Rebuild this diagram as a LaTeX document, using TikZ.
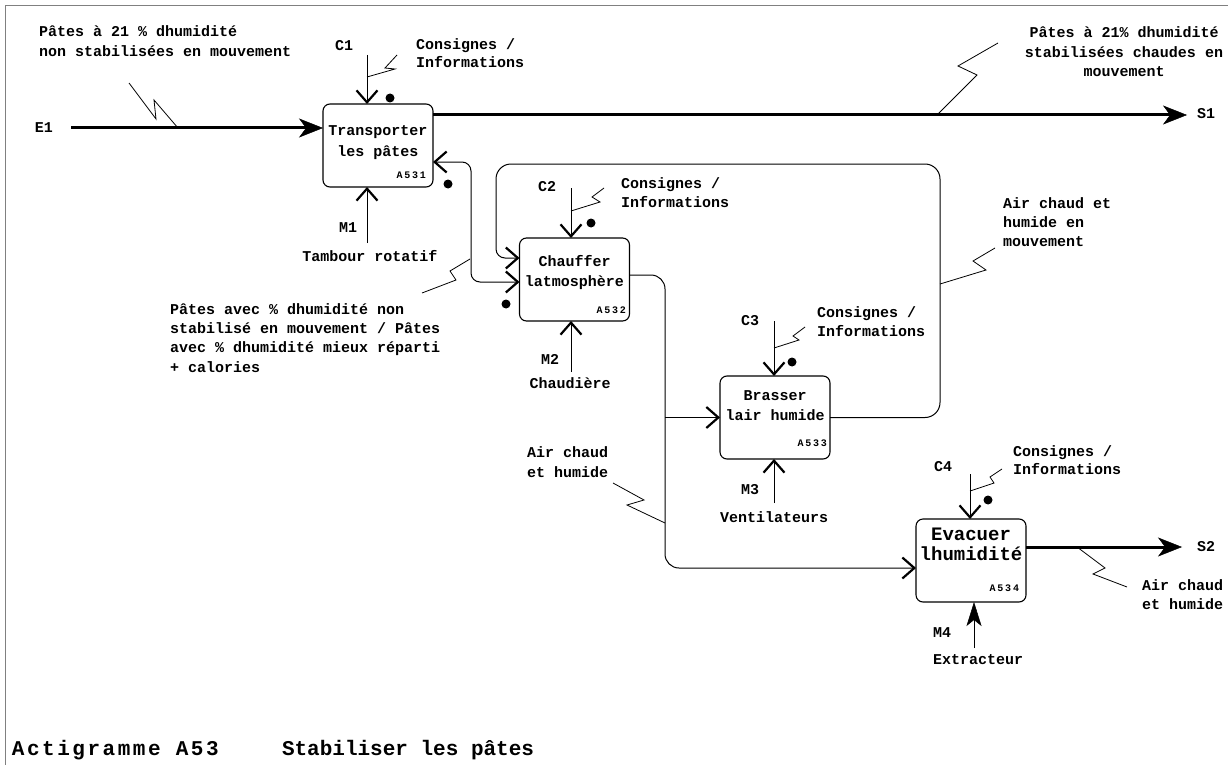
\documentclass[tikz,border=0pt]{standalone}
\usepackage{fontspec}
\newfontfamily\lblfam{Liberation Mono}
\newfontfamily\codefam[LetterSpace=18]{Liberation Mono}
\usetikzlibrary{arrows.meta}
\tikzset{
  Chev/.tip={Straight Barb[length=12pt,width=21pt,line width=2.2pt]},
  Big/.tip={Stealth[length=24pt,width=19pt,inset=7pt,line width=0.5pt]},
  BigUp/.tip={Stealth[length=24pt,width=15pt,inset=6pt,line width=0.5pt]},
}
\begin{document}
\begin{tikzpicture}[x=1pt,y=-1pt,
  every node/.style={inner sep=0pt, outer sep=0pt},
  lab/.style={font=\lblfam\bfseries\fontsize{15}{19}\selectfont, anchor=base west, align=left},
  labc/.style={font=\lblfam\bfseries\fontsize{15}{19}\selectfont, anchor=base, align=center},
  actbox/.style={draw, line width=1.1pt, rounded corners=7pt, minimum width=110pt, minimum height=83pt},
  boxcode/.style={font=\codefam\bfseries\fontsize{10}{12}\selectfont, anchor=base east},
  flow/.style={line width=1pt},
  heavy/.style={line width=3pt},
  squig/.style={line width=0.8pt},
  blob/.style={circle, fill, minimum size=9pt},
  sheet/.style={draw=gray, line width=1pt}
]
\useasboundingbox (0,0) rectangle (1228,765);

% sheet border (top and left edges)
\draw[sheet] (1228,6) -- (5,6) -- (5,765);

% activity boxes
\node[actbox] (A531) at (378,145.5) {};
\node[actbox] (A532) at (574.5,279.5) {};
\node[actbox] (A533) at (775,417.5) {};
\node[actbox] (A534) at (971,560.5) {};

% box titles (base anchor sits on the last line)
\node[labc, font=\lblfam\bfseries\fontsize{15}{21}\selectfont] (t531) at (378,157) {Transporter\\les pâtes};
\node[labc, font=\lblfam\bfseries\fontsize{15}{20}\selectfont] (t532) at (574.5,286) {Chauffer\\latmosphère};
\node[labc, font=\lblfam\bfseries\fontsize{15}{20}\selectfont] (t533) at (775,420) {Brasser\\lair humide};
\node[labc, font=\lblfam\bfseries\fontsize{19}{20}\selectfont] (t534) at (971,560) {Evacuer\\lhumidité};

\node[boxcode] (k531) at (426,178) {A531};
\node[boxcode] (k532) at (626,313) {A532};
\node[boxcode] (k533) at (827,446) {A533};
\node[boxcode] (k534) at (1019,591) {A534};

% ---- A531 ----
\coordinate (e1) at (71,128);
\draw[heavy,-Big] (e1) -- (e1 -| A531.west);
\node[labc] (nE1) at (44,132) {E1};
\node[lab, font=\lblfam\bfseries\fontsize{15}{20}\selectfont] (lE1) at (39,57) {Pâtes à 21 \% dhumidité\\non stabilisées en mouvement};
\draw[squig] (129,83) -- (156,119) -- (154,100) -- (178,128);

\coordinate (s1) at (1187,115);
\draw[heavy,-Big] (s1 -| A531.east) -- (s1);
\node[labc] (nS1) at (1206,119) {S1};
\node[labc, font=\lblfam\bfseries\fontsize{15}{19.5}\selectfont] (lS1) at (1124,77) {Pâtes à 21\% dhumidité\\stabilisées chaudes en\\mouvement};
\draw[squig] (998,43) -- (958,66) -- (977,75) -- (937,115);

\coordinate (c1) at (367,55);
\draw[flow,-Chev] (c1) -- (c1 |- A531.north);
\node[labc] (nC1) at (344,51) {C1};
\node[lab, font=\lblfam\bfseries\fontsize{15}{18}\selectfont] (lC1) at (416,68) {Consignes /\\Informations};
\draw[squig] (397,55) -- (385,68) -- (395,69) -- (367,77);
\node[blob] (d1) at (390,98) {};

\coordinate (m1) at (367,243);
\draw[flow,-Chev] (m1) -- (m1 |- A531.south);
\node[labc] (nM1) at (348,232) {M1};
\node[labc] (lM1) at (370,261) {Tambour rotatif};

% two-way link between A531 and A532
\draw[flow,Chev-Chev,rounded corners=9pt] ([yshift=-16.5pt]A531.east) -- (471,162) -- (471,282) -- ([yshift=-2.5pt]A532.west);
\node[blob] (d2) at (448,184) {};
\node[blob] (d3) at (506,304) {};
\draw[squig] (470,259) -- (450,271) -- (456,280) -- (422,293);
\node[lab, font=\lblfam\bfseries\fontsize{15}{19.3}\selectfont] (lPa) at (170,372) {Pâtes avec \% dhumidité non\\stabilisé en mouvement / Pâtes\\avec \% dhumidité mieux réparti\\+ calories};

% ---- A532 ----
\coordinate (c2) at (571,188);
\draw[flow,-Chev] (c2) -- (c2 |- A532.north);
\node[labc] (nC2) at (547,191) {C2};
\node[lab] (lC2) at (621,207) {Consignes /\\Informations};
\draw[squig] (604,188) -- (592,197) -- (600,202) -- (571,211);
\node[blob] (d4) at (591,223) {};

\coordinate (m2) at (571,372);
\draw[flow,-Chev] (m2) -- (m2 |- A532.south);
\node[labc] (nM2) at (550,364) {M2};
\node[labc] (lM2) at (570,388) {Chaudière};

% output of A532 to A533 and A534
\draw[flow,-Chev,rounded corners=14pt] ([yshift=4.5pt]A532.east) -- (665,275) -- (665,568) -- ([yshift=-7.5pt]A534.west);
\coordinate (br) at (665,417.5);
\draw[flow,-Chev] (br) -- (br -| A533.west);
\draw[squig] (613,483) -- (644,500) -- (627,505) -- (665,523);
\node[lab, font=\lblfam\bfseries\fontsize{15}{20}\selectfont] (lAir2) at (527,477) {Air chaud\\et humide};

% ---- A533 ----
\coordinate (c3) at (774,321);
\draw[flow,-Chev] (c3) -- (c3 |- A533.north);
\node[labc] (nC3) at (750,325) {C3};
\node[lab] (lC3) at (817,336) {Consignes /\\Informations};
\draw[squig] (805,327) -- (793,336) -- (799,340) -- (774,348);
\node[blob] (d5) at (792,362) {};

\coordinate (m3) at (774,503);
\draw[flow,-Chev] (m3) -- (m3 |- A533.south);
\node[labc] (nM3) at (750,494) {M3};
\node[labc] (lM3) at (774,522) {Ventilateurs};

% feedback loop from A533 back to A532
\draw[flow,-Chev,rounded corners=15pt] (A533.east) -- (940,417.5) -- (940,164) -- (496,164) [rounded corners=9pt] -- (496,258) -- ([yshift=21.5pt]A532.west);
\draw[squig] (995,248) -- (973,261) -- (986,270) -- (940,284);
\node[lab] (lAir1) at (1003,246) {Air chaud et\\humide en\\mouvement};

% ---- A534 ----
\coordinate (c4) at (970,474);
\draw[flow,-Chev] (c4) -- (c4 |- A534.north);
\node[labc] (nC4) at (943,471) {C4};
\node[lab, font=\lblfam\bfseries\fontsize{15}{18}\selectfont] (lC4) at (1013,474) {Consignes /\\Informations};
\draw[squig] (1002,469) -- (990,477) -- (994,483) -- (970,491);
\node[blob] (d6) at (988,500) {};

\coordinate (m4) at (974,648);
\draw[flow,-BigUp] (m4) -- (m4 |- A534.south);
\node[labc] (nM4) at (942,637) {M4};
\node[labc] (lM4) at (978,664) {Extracteur};

\coordinate (s2) at (1182,547);
\draw[heavy,-Big] (s2 -| A534.east) -- (s2);
\node[labc] (nS2) at (1206,551) {S2};
\draw[squig] (1077,547) -- (1105,568) -- (1093,574) -- (1127,587);
\node[lab] (lAir3) at (1142,609) {Air chaud\\et humide};

% title
\node[anchor=base west, font=\lblfam\bfseries\fontsize{21}{24}\selectfont\addfontfeature{LetterSpace=12}] (ttl1) at (12,755) {Actigramme A53};
\node[anchor=base west, font=\lblfam\bfseries\fontsize{21}{24}\selectfont] (ttl2) at (282,755) {Stabiliser les pâtes};
\end{tikzpicture}
\end{document}
